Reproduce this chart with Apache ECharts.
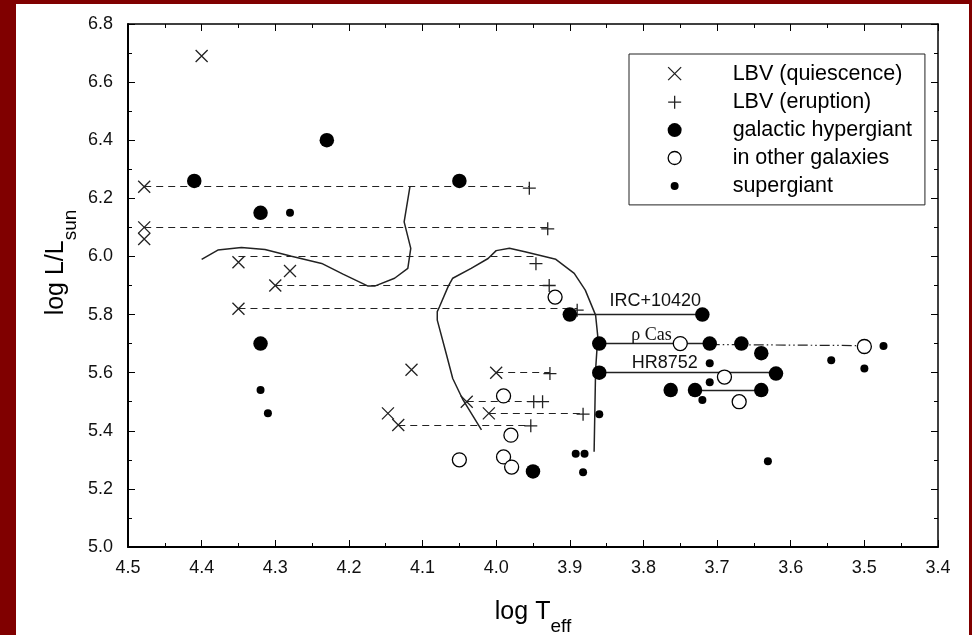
<!DOCTYPE html>
<html>
<head>
<meta charset="utf-8">
<script src="https://cdn.jsdelivr.net/npm/echarts@6/dist/echarts.min.js"></script>
<style>
html,body{margin:0;padding:0;background:#800000;width:972px;height:635px;overflow:hidden;}
#chart{position:absolute;left:16px;top:4px;width:953px;height:631px;background:#fff;}
</style>
</head>
<body>
<div id="chart"></div>
<script>
// ---- data (log Teff, log L/Lsun) ----
const lbvQuiescence = [[4.40,6.69],[4.478,6.24],[4.478,6.10],[4.478,6.06],[4.35,5.98],[4.28,5.95],[4.30,5.90],[4.35,5.82],[4.115,5.61],[4.147,5.46],[4.133,5.42],[4.04,5.50],[4.00,5.60],[4.01,5.46]];
const lbvEruption = [[3.955,6.235],[3.93,6.095],[3.946,5.975],[3.928,5.90],[3.89,5.815],[3.927,5.597],[3.949,5.50],[3.937,5.50],[3.882,5.457],[3.953,5.417]];
const galacticHypergiant = [[4.41,6.26],[4.23,6.40],[4.32,6.15],[4.05,6.26],[4.32,5.70],[3.90,5.80],[3.72,5.80],[3.86,5.70],[3.71,5.70],[3.667,5.70],[3.64,5.667],[3.86,5.60],[3.62,5.597],[3.763,5.54],[3.73,5.54],[3.64,5.54],[3.95,5.26]];
const otherGalaxies = [[3.92,5.86],[3.75,5.70],[3.50,5.69],[3.69,5.585],[3.67,5.50],[3.99,5.52],[3.98,5.385],[3.99,5.31],[3.979,5.275],[4.05,5.30]];
const supergiant = [[4.28,6.15],[4.32,5.54],[4.31,5.46],[3.474,5.692],[3.545,5.643],[3.50,5.614],[3.71,5.632],[3.71,5.567],[3.72,5.506],[3.86,5.457],[3.892,5.321],[3.88,5.321],[3.882,5.257],[3.631,5.295]];

const lbvLinks = [
  [[4.478,6.24],[3.955,6.24]],
  [[4.478,6.10],[3.93,6.10]],
  [[4.35,6.00],[3.946,6.00]],
  [[4.30,5.90],[3.928,5.90]],
  [[4.35,5.82],[3.89,5.82]],
  [[4.00,5.60],[3.927,5.60]],
  [[4.04,5.50],[3.937,5.50]],
  [[4.01,5.46],[3.882,5.46]],
  [[4.133,5.42],[3.953,5.42]]
];
const hypergiantLinks = [
  [[3.90,5.80],[3.72,5.80]],
  [[3.86,5.70],[3.71,5.70]],
  [[3.86,5.60],[3.62,5.60]],
  [[3.73,5.54],[3.64,5.54]]
];
const rhoCasExtension = [[[3.71,5.697],[3.50,5.693]]];

const track1 = [[4.400,5.990],[4.378,6.022],[4.346,6.031],[4.314,6.024],[4.278,6.001],[4.237,5.976],[4.208,5.939],[4.174,5.898],[4.165,5.898],[4.138,5.925],[4.120,5.959],[4.116,6.028],[4.125,6.119],[4.117,6.242]];
const track2 = [[4.020,5.403],[4.045,5.506],[4.059,5.580],[4.068,5.667],[4.080,5.781],[4.080,5.810],[4.077,5.827],[4.065,5.898],[4.059,5.925],[4.034,5.959],[4.011,5.993],[4.000,6.020],[3.982,6.028],[3.961,6.016],[3.919,5.990],[3.894,5.942],[3.879,5.884],[3.865,5.798],[3.862,5.724],[3.865,5.609],[3.867,5.328]];

const starNames = ['IRC+10420', 'ρ Cas', 'HR8752'];
const starNamePoints = [[3.784,5.847],[3.789,5.729],[3.771,5.632]];

const legendNames = ['LBV (quiescence)','LBV (eruption)','galactic hypergiant','in other galaxies','supergiant'];
const xRange = [3.4, 4.5], xStep = 0.1;
const yRange = [5.0, 6.8], yStep = 0.2;

// ---- styling ----
const INK = '#000';
const FONT = "'Liberation Sans', Arial, Helvetica, sans-serif";
const SERIF = "'Liberation Serif', 'Times New Roman', serif";
const SYM_X = 'path://M0,0L10,10M10,0L0,10';
const SYM_PLUS = 'path://M5,0L5,10M0,5L10,5';
const ICON_BOX = 'M0,0M60,24';
const icons = [
  'path://' + ICON_BOX + 'M0.5,5.5L13.5,18.5M13.5,5.5L0.5,18.5',
  'path://' + ICON_BOX + 'M0.5,12L13.5,12M7,5.5L7,18.5',
  'path://' + ICON_BOX + 'M0,12A7,7,0,1,0,14,12A7,7,0,1,0,0,12Z',
  'path://' + ICON_BOX + 'M0.5,12A6.5,6.5,0,1,0,13.5,12A6.5,6.5,0,1,0,0.5,12Z',
  'path://' + ICON_BOX + 'M3,12A4,4,0,1,0,11,12A4,4,0,1,0,3,12Z'
];
const hollow = {color:'rgba(0,0,0,0)', borderColor:'#222', borderWidth:1.3, opacity:1};
const iconStyles = [hollow, hollow, {color:INK, borderWidth:0, opacity:1}, {color:'#fff', borderColor:INK, borderWidth:1.3, opacity:1}, {color:INK, borderWidth:0, opacity:1}];

const titleRich = {
  a:{fontSize:25, fontFamily:FONT, color:INK, fill:INK, lineHeight:25, verticalAlign:'top'},
  b:{fontSize:19, fontFamily:FONT, color:INK, fill:INK, lineHeight:19, padding:[17,0,0,0], verticalAlign:'top'}
};

function xAxisDef(primary){
  return {
    type:'value', min:xRange[0], max:xRange[1], interval:xStep, inverse:true,
    position: primary ? 'bottom' : 'top',
    axisLine:{show:true, onZero:false, lineStyle:{color:INK, width: primary ? 2 : 1.5}},
    axisTick:{show:true, inside:true, length:7, lineStyle:{color:INK, width:1}},
    minorTick:{show:true, splitNumber:2, length:4, lineStyle:{color:INK, width:1}},
    splitLine:{show:false}, minorSplitLine:{show:false},
    axisLabel:{show:primary, margin:12, fontSize:18, fontFamily:FONT, color:'#111', formatter:v=>v.toFixed(1)},
    name: primary ? '{a|log T}{b|eff}' : '',
    nameLocation:'middle', nameGap:53,
    nameTextStyle:{rich:titleRich}
  };
}
function yAxisDef(primary){
  return {
    type:'value', min:yRange[0], max:yRange[1], interval:yStep,
    position: primary ? 'left' : 'right',
    axisLine:{show:true, onZero:false, lineStyle:{color:INK, width: primary ? 2 : 1.5}},
    axisTick:{show:true, inside:true, length:7, lineStyle:{color:INK, width:1}},
    minorTick:{show:true, splitNumber:2, length:4, lineStyle:{color:INK, width:1}},
    splitLine:{show:false}, minorSplitLine:{show:false},
    axisLabel:{show:primary, margin:15, fontSize:18, fontFamily:FONT, color:'#111', formatter:v=>v.toFixed(1)}
  };
}

const segStyle = (type, width) => ({color:'#222', width:width, type:type, opacity:1});

const chart = echarts.init(document.getElementById('chart'), null, {renderer:'canvas'});
chart.setOption({
  animation:false,
  backgroundColor:'#fff',
  grid:{left:112, right:31, top:20, bottom:88, containLabel:false, outerBoundsMode:'none'},
  xAxis:[xAxisDef(true), xAxisDef(false)],
  yAxis:[yAxisDef(true), yAxisDef(false)],
  legend:{
    show:true, orient:'vertical', left:613, top:50,
    padding:[7,13,7,38], itemGap:3.25, itemWidth:60, itemHeight:24,
    borderColor:'#222', borderWidth:1, backgroundColor:'#fff',
    selectedMode:false, symbolKeepAspect:true,
    textStyle:{fontSize:21.5, fontFamily:FONT, color:INK, lineHeight:24},
    data: legendNames.map((n,i)=>({name:n, icon:icons[i], itemStyle:iconStyles[i]}))
  },
  graphic:[{
    type:'text', x:40.4, y:258.5, rotation:Math.PI/2, silent:true,
    style:{text:'{a|log L/L}{b|sun}', align:'center', verticalAlign:'middle',
           textAlign:'center', textVerticalAlign:'middle', fill:INK, rich:titleRich}
  }],
  series:[
    {type:'line', data:track1, showSymbol:false, symbol:'none', silent:true, lineStyle:{color:'#222', width:1.5, opacity:1}, z:2},
    {type:'line', data:track2, showSymbol:false, symbol:'none', silent:true, lineStyle:{color:'#222', width:1.5, opacity:1}, z:2},
    {type:'lines', coordinateSystem:'cartesian2d', silent:true, z:2,
     data: lbvLinks.map(c=>({coords:c})), lineStyle:segStyle([7,5],1.2)},
    {type:'lines', coordinateSystem:'cartesian2d', silent:true, z:2,
     data: hypergiantLinks.map(c=>({coords:c})), lineStyle:segStyle('solid',1.4)},
    {type:'lines', coordinateSystem:'cartesian2d', silent:true, z:2,
     data: rhoCasExtension.map(c=>({coords:c})), lineStyle:segStyle([10,3,1.5,3,1.5,3],1.2)},
    {name:legendNames[0], type:'scatter', data:lbvQuiescence, symbol:SYM_X, symbolSize:12, z:5,
     itemStyle:hollow, emphasis:{disabled:true}},
    {name:legendNames[1], type:'scatter', data:lbvEruption, symbol:SYM_PLUS, symbolSize:13, z:5,
     itemStyle:hollow, emphasis:{disabled:true}},
    {name:legendNames[2], type:'scatter', data:galacticHypergiant, symbol:'circle', symbolSize:14.5, z:5,
     itemStyle:{color:INK, opacity:1}, emphasis:{disabled:true}},
    {name:legendNames[3], type:'scatter', data:otherGalaxies, symbol:'circle', symbolSize:14, z:5,
     itemStyle:{color:'#fff', borderColor:INK, borderWidth:1.3, opacity:1}, emphasis:{disabled:true}},
    {name:legendNames[4], type:'scatter', data:supergiant, symbol:'circle', symbolSize:8, z:5,
     itemStyle:{color:INK, opacity:1}, emphasis:{disabled:true}},
    {type:'scatter', silent:true, z:6, symbol:'circle', symbolSize:1,
     itemStyle:{color:'rgba(0,0,0,0)', opacity:1},
     data: starNames.map((n,i)=>({name:n, value:starNamePoints[i],
       label:{fontFamily: n.indexOf('ρ')===0 ? SERIF : FONT, fontSize:18}})),
     label:{show:true, position:'inside', formatter:'{b}', color:'#111', fontSize:18, opacity:1}}
  ]
});
</script>
</body>
</html>
